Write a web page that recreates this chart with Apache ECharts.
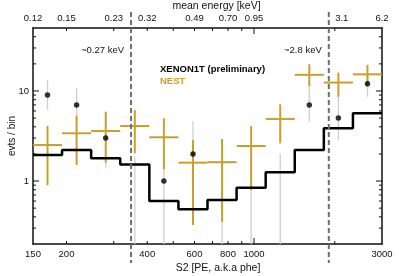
<!DOCTYPE html>
<html>
<head>
<meta charset="utf-8">
<script src="https://cdn.jsdelivr.net/npm/echarts@6/dist/echarts.min.js"></script>
<style>html,body{margin:0;padding:0;background:#fff;}#c{width:399px;height:276px;}</style>
</head>
<body>
<div id="c"></div>
<script>
// ---- data ----
const binEdges = [150, 192.5, 247.1, 317.2, 407.2, 522.7, 670.8, 861.1, 1105.3, 1418.8, 1821.2, 2337.6, 3000];
const binCenters = [169.9, 218.1, 280.0, 359.4, 461.3, 592.2, 760.1, 975.6, 1252.3, 1607.4, 2063.2, 2648.4];
const bkgModel = [1.94, 2.21, 1.79, 1.53, 0.60, 0.485, 0.615, 0.84, 1.25, 2.21, 3.85, 5.65];
const nestValue = [2.51, 3.39, 3.59, 4.08, 3.06, 1.60, 1.62, 2.45, 4.89, 15.1, 12.4, 15.3];
const nestLow   = [0.90, 1.51, 1.60, 2.03, 1.35, 0.325, 0.353, 0.79, 2.62, 11.2, 8.6, 11.2];
const nestHigh  = [4.08, 5.32, 5.89, 6.15, 4.97, 2.85, 2.93, 4.08, 7.1, 19.8, 16.0, 19.5];
const xenonCounts = [9, 7, 3, 0, 1, 2, 0, 0, 0, 7, 5, 12];
const xenonLow  = [6.15, 4.76, 1.39, 0.2, 0.2, 0.65, 0.2, 0.2, 0.2, 4.56, 2.85, 8.6];
const xenonHigh = [13.2, 10.8, 5.84, 1.85, 2.3, 4.6, 1.85, 1.85, 2.0, 11.0, 8.6, 15.4];
const thresholdS2 = [348, 1900];
const thresholdLabels = ['~0.27 keV', '~2.8 keV'];
const bottomTickLabels = [150, 200, 400, 600, 800, 1000, 3000];
const topTickS2 = [150, 200, 300, 400, 600, 800, 1000, 2000, 3000];
const topTickLabels = ['0.12', '0.15', '0.23', '0.32', '0.49', '0.70', '0.95', '3.1', '6.2'];
const xMinorTicks = [200, 300, 400, 500, 600, 700, 800, 900, 2000];
const xMajorTicks = [1000];
const yMinorTicks = [0.3, 0.4, 0.5, 0.6, 0.7, 0.8, 0.9, 2, 3, 4, 5, 6, 7, 8, 9, 20, 30, 40];
const yMajorTicks = [1, 10];
const yTickLabels = [1, 10];

// ---- styles ----
const GOLD = '#c9a02b';
const FONT = 'Liberation Sans, Arial, sans-serif';
const AX = '#111';

const chart = echarts.init(document.getElementById('c'), null, {renderer: 'canvas'});

function xAxisDef(pos, labelOpt, nameOpt) {
  return Object.assign({
    type: 'log', logBase: 10, min: 150, max: 3000, position: pos,
    axisLine: {show: true, lineStyle: {color: AX, width: 1.5}},
    axisTick: {show: false},
    axisLabel: labelOpt || {show: false},
    splitLine: {show: false}, minorTick: {show: false}, minorSplitLine: {show: false}
  }, nameOpt || {});
}
function yAxisDef(pos, labelOpt, nameOpt) {
  return Object.assign({
    type: 'log', logBase: 10, min: 0.2, max: 50, position: pos,
    axisLine: {show: true, lineStyle: {color: AX, width: 1.5}},
    axisTick: {show: false},
    axisLabel: labelOpt || {show: false},
    splitLine: {show: false}, minorTick: {show: false}, minorSplitLine: {show: false}
  }, nameOpt || {});
}

const stepData = binEdges.slice(0, bkgModel.length).map((e, i) => [e, bkgModel[i]]);
stepData.push([binEdges[binEdges.length - 1], bkgModel[bkgModel.length - 1]]);

const nestData = nestValue.map((v, i) => [binEdges[i], binEdges[i + 1], binCenters[i], v, nestLow[i], nestHigh[i]]);
const errData = xenonCounts.map((v, i) => [binCenters[i], xenonLow[i], xenonHigh[i]]);
const dotData = [];
xenonCounts.forEach((v, i) => { if (v > 0) dotData.push([binCenters[i], v]); });

const xTickData = xMinorTicks.map(v => [v, 1, 3]).concat(xMajorTicks.map(v => [v, 1, 6]));
const yTickData = yMinorTicks.map(v => [150, v, 3]).concat(yMajorTicks.map(v => [150, v, 6]));

const tickStyle = {stroke: AX, lineWidth: 1};

const option = {
  animation: false,
  backgroundColor: '#fff',
  textStyle: {fontFamily: FONT},
  grid: {left: 33, right: 17, top: 28, bottom: 32, outerBoundsMode: 'none', containLabel: false},
  xAxis: [
    xAxisDef('bottom',
      {show: true, customValues: bottomTickLabels, fontSize: 9.5, color: AX, margin: 5, fontFamily: FONT,
       formatter: v => String(Math.round(v))},
      {name: 'S2 [PE, a.k.a phe]', nameLocation: 'middle', nameGap: 19, nameMoveOverlap: false,
       nameTextStyle: {fontSize: 10.5, color: AX, fontFamily: FONT, padding: [0, 0, 0, 21]}}),
    xAxisDef('top',
      {show: true, customValues: topTickS2, fontSize: 9.5, color: AX, margin: 5, fontFamily: FONT,
       formatter: v => {
         const i = topTickS2.findIndex(s => Math.abs(s - v) < 1e-6 * s);
         if (i < 0) return '';
         return topTickLabels[i] === '3.1' ? '{shift|' + topTickLabels[i] + '}' : topTickLabels[i];
       },
       rich: {shift: {fontSize: 9.5, color: AX, fontFamily: FONT, padding: [0, 0, 0, 14]}}},
      {name: 'mean energy [keV]', nameLocation: 'middle', nameGap: 16, nameMoveOverlap: false,
       nameTextStyle: {fontSize: 10.5, color: AX, fontFamily: FONT, padding: [0, 0, 0, 18]}})
  ],
  yAxis: [
    yAxisDef('left',
      {show: true, customValues: yTickLabels, fontSize: 9.5, color: AX, margin: 4, fontFamily: FONT,
       formatter: v => String(Math.round(v))},
      {name: 'evts / bin', nameLocation: 'middle', nameGap: 16, nameRotate: 90, nameMoveOverlap: false,
       nameTextStyle: {fontSize: 10, color: AX, fontFamily: FONT}}),
    yAxisDef('right', null)
  ],
  graphic: [
    {type: 'text', left: 160, top: 64, z: 100,
     style: {text: 'XENON1T (preliminary)', fontSize: 9.5, fontWeight: 'bold', fontFamily: FONT, fill: '#000'}},
    {type: 'text', left: 160, top: 76, z: 100,
     style: {text: 'NEST', fontSize: 9.5, fontWeight: 'bold', fontFamily: FONT, fill: GOLD}}
  ],
  series: [
    {
      type: 'custom', name: 'xTicks', xAxisIndex: 0, yAxisIndex: 0, z: 6, clip: false, silent: true,
      data: xTickData, encode: {x: 0, y: 1},
      renderItem: function (params, api) {
        const p = api.coord([api.value(0), api.value(1)]);
        const cs = params.coordSys;
        const len = api.value(2);
        const yb = cs.y + cs.height, yt = cs.y;
        return {type: 'group', children: [
          {type: 'line', shape: {x1: p[0], y1: yb, x2: p[0], y2: yb - len}, style: tickStyle},
          {type: 'line', shape: {x1: p[0], y1: yt, x2: p[0], y2: yt + len}, style: tickStyle}
        ]};
      }
    },
    {
      type: 'custom', name: 'yTicks', xAxisIndex: 0, yAxisIndex: 0, z: 6, clip: false, silent: true,
      data: yTickData, encode: {x: 0, y: 1},
      renderItem: function (params, api) {
        const p = api.coord([api.value(0), api.value(1)]);
        const cs = params.coordSys;
        const len = api.value(2);
        const xl = cs.x, xr = cs.x + cs.width;
        return {type: 'group', children: [
          {type: 'line', shape: {x1: xl, y1: p[1], x2: xl + len, y2: p[1]}, style: tickStyle},
          {type: 'line', shape: {x1: xr, y1: p[1], x2: xr - len, y2: p[1]}, style: tickStyle}
        ]};
      }
    },
    {
      type: 'custom', name: 'xenonErr', xAxisIndex: 0, yAxisIndex: 0, z: 1,
      data: errData, encode: {x: 0, y: [1, 2]},
      renderItem: function (params, api) {
        const a = api.coord([api.value(0), api.value(1)]);
        const b = api.coord([api.value(0), api.value(2)]);
        return {type: 'line', shape: {x1: a[0], y1: a[1], x2: b[0], y2: b[1]},
                style: {stroke: '#cfcfcf', lineWidth: 1.3}};
      }
    },
    {
      type: 'custom', name: 'NEST', xAxisIndex: 0, yAxisIndex: 0, z: 2,
      data: nestData, encode: {x: [0, 1, 2], y: [3, 4, 5]},
      renderItem: function (params, api) {
        const y = api.value(3);
        const a = api.coord([api.value(0), y]);
        const b = api.coord([api.value(1), y]);
        const c1 = api.coord([api.value(2), api.value(4)]);
        const c2 = api.coord([api.value(2), api.value(5)]);
        const st = {stroke: GOLD, lineWidth: 2};
        return {type: 'group', children: [
          {type: 'line', shape: {x1: a[0], y1: a[1], x2: b[0], y2: b[1]}, style: st},
          {type: 'line', shape: {x1: c1[0], y1: c1[1], x2: c2[0], y2: c2[1]}, style: st}
        ]};
      }
    },
    {
      type: 'line', name: 'model', xAxisIndex: 0, yAxisIndex: 0, z: 3,
      step: 'end', data: stepData, showSymbol: false, symbol: 'none',
      lineStyle: {color: '#000', width: 2.5}
    },
    {
      type: 'scatter', name: 'XENON1T', xAxisIndex: 0, yAxisIndex: 0, z: 4,
      data: dotData, symbol: 'circle', symbolSize: 5.5,
      itemStyle: {color: '#000'}
    },
    {
      type: 'custom', name: 'thresholds', xAxisIndex: 0, yAxisIndex: 0, z: 5, clip: false,
      data: thresholdS2.map(v => [v, 1]), encode: {x: 0, y: 1},
      renderItem: function (params, api) {
        const p = api.coord([api.value(0), api.value(1)]);
        const cs = params.coordSys;
        return {type: 'group', children: [
          {type: 'line', shape: {x1: p[0], y1: cs.y - 16, x2: p[0], y2: cs.y + cs.height + 19},
           style: {stroke: '#6e6e6e', lineWidth: 2, lineDash: [5, 3]}},
          {type: 'text', style: {text: thresholdLabels[params.dataIndex], x: p[0] - 7, y: cs.y + 22,
            align: 'right', verticalAlign: 'middle', fontSize: 9.5, fontFamily: FONT, fill: '#111'}}
        ]};
      }
    }
  ]
};
chart.setOption(option);
</script>
</body>
</html>
